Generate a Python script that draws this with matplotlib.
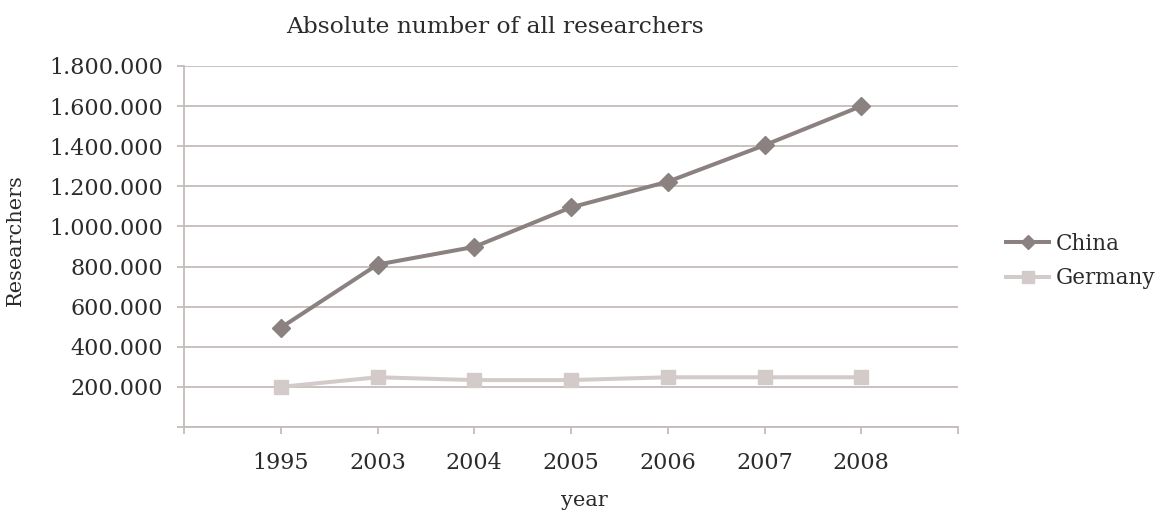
import matplotlib
matplotlib.use("Agg")
import matplotlib.pyplot as plt
from matplotlib.ticker import FuncFormatter, FixedLocator

# Researcher counts per year
years = ["1995", "2003", "2004", "2005", "2006", "2007", "2008"]
china = [495000, 810000, 898000, 1095000, 1223000, 1405000, 1600000]
germany = [200000, 248000, 234000, 234000, 248000, 248000, 248000]

grid_color = "#c4bcbb"
text_color = "#2b2b2b"
plt.rcParams["font.family"] = ["DejaVu Serif"]

fig = plt.figure(figsize=(11.74, 5.13), dpi=100)
ax = fig.add_axes([184 / 1174, 1 - 427 / 513, (958 - 184) / 1174, (427 - 66) / 513])

x = list(range(len(years)))
ax.plot(x, china, color="#8a8180", lw=2.9, marker="D", ms=9, label="China", zorder=3)
ax.plot(x, germany, color="#d2cbc9", lw=2.9, marker="s", ms=10.5, label="Germany", zorder=3)

ax.set_xlim(-1, len(years))
ax.set_ylim(0, 1800000)

# y axis: gridlines every 200.000, no label at zero
ax.yaxis.set_major_locator(FixedLocator(range(0, 1800001, 200000)))
ax.yaxis.set_major_formatter(FuncFormatter(
    lambda v, p: "" if v == 0 else f"{int(v):,}".replace(",", ".")))
ax.grid(axis="y", color=grid_color, lw=1.3)
ax.set_axisbelow(True)

# x axis: tick marks at every slot, labels only on the years
ax.set_xticks(range(-1, len(years) + 1))
ax.set_xticklabels([""] + years + [""])

for s in ["top", "right"]:
    ax.spines[s].set_visible(False)
for s in ["left", "bottom"]:
    ax.spines[s].set_color(grid_color)
    ax.spines[s].set_linewidth(1.3)
ax.tick_params(axis="both", colors=grid_color, length=5, width=1.3,
               labelcolor=text_color, labelsize=16)
ax.tick_params(axis="y", pad=10)
ax.tick_params(axis="x", pad=13)

fig.text(495 / 1174, 1 - 27 / 513, "Absolute number of all researchers",
         ha="center", va="center", fontsize=16.8, color=text_color)
fig.text(15 / 1174, 1 - 240 / 513, "Researchers", rotation=90,
         ha="center", va="center", fontsize=15, color=text_color)
fig.text(584 / 1174, 1 - 500 / 513, "year",
         ha="center", va="center", fontsize=15, color=text_color)

ax.legend(loc="center left", bbox_to_anchor=(1006 / 1174, 1 - 261 / 513),
          bbox_transform=fig.transFigure, frameon=False, fontsize=15.5,
          handlelength=2.0, handletextpad=0.3, labelspacing=0.6, borderpad=0,
          borderaxespad=0, markerscale=0.8, labelcolor=text_color)

fig.savefig("out.png", dpi=100)
